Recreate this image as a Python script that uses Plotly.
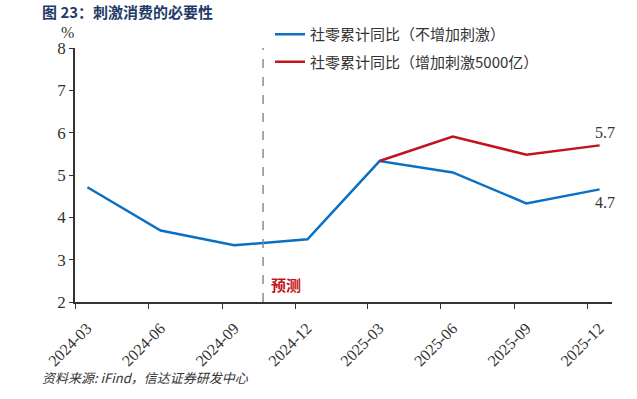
import plotly.graph_objects as go

# ---- data ----
months = ["2024-03", "2024-06", "2024-09", "2024-12", "2025-03", "2025-06", "2025-09", "2025-12"]
base_vals = [4.71, 3.69, 3.34, 3.48, 5.33, 5.06, 4.33, 4.66]
stim_months = ["2025-03", "2025-06", "2025-09", "2025-12"]
stim_vals = [5.33, 5.91, 5.48, 5.70]
base_name = "社零累计同比（不增加刺激）"
stim_name = "社零累计同比（增加刺激5000亿）"
forecast_date = "2024-10-22"
forecast_label = "预测"
end_labels = ["4.7", "5.7"]
title_text = "图 23：刺激消费的必要性"
source_text = "资料来源: iFind，信达证券研发中心"

BLUE = "#0A70C4"
RED = "#C2141C"
SERIF = "Liberation Serif, Times New Roman, serif"
CJK = "Noto Sans CJK SC, sans-serif"

W, H = 637, 399
ML, MR, MT, MB = 75, 25, 48, 97

fig = go.Figure()
fig.add_trace(go.Scatter(
    x=months, y=base_vals, name=base_name, mode="lines", legendgroup="a",
    line=dict(color=BLUE, width=2.5),
    xperiod="M1", xperiodalignment="middle",
))
fig.add_trace(go.Scatter(
    x=stim_months, y=stim_vals, name=stim_name, mode="lines", legendgroup="b",
    line=dict(color=RED, width=2.5),
    xperiod="M1", xperiodalignment="middle",
))

# forecast divider
fig.add_shape(type="line", xref="x", yref="paper", x0=forecast_date, x1=forecast_date,
              y0=0, y1=1, line=dict(color="#8C8C8C", width=1.5, dash="dash"))
fig.add_annotation(x=forecast_date, y=2.41, xref="x", yref="y", text="<b>" + forecast_label + "</b>",
                   showarrow=False, xanchor="left", xshift=6,
                   font=dict(family=CJK, size=15, color=RED))

# end labels
fig.add_annotation(x=stim_months[-1], y=base_vals[-1], text=end_labels[0], showarrow=False,
                   xshift=18, yshift=-13, font=dict(family=SERIF, size=16, color="#333"))
fig.add_annotation(x=stim_months[-1], y=stim_vals[-1], text=end_labels[1], showarrow=False,
                   xshift=18, yshift=13, font=dict(family=SERIF, size=16, color="#333"))

# title, unit, source (positioned relative to the whole figure)
fig.add_annotation(xref="paper", yref="paper", x=(40 - ML) / (W - ML - MR), y=1 + (MT - 11) / (H - MT - MB),
                   text="<b>" + title_text + "</b>", showarrow=False, xanchor="left", yanchor="middle",
                   font=dict(family=CJK, size=15, color="#1F3A68"))
fig.add_annotation(xref="paper", yref="paper", x=0, y=1, text="%", showarrow=False,
                   xanchor="right", yanchor="bottom", xshift=1, yshift=5,
                   font=dict(family=SERIF, size=16, color="#333"))
fig.add_annotation(xref="paper", yref="paper", x=(40 - ML) / (W - ML - MR), y=-(377 - (H - MB)) / (H - MT - MB),
                   text="<i>" + source_text + "</i>", showarrow=False, xanchor="left", yanchor="middle",
                   font=dict(family=CJK, size=13, color="#333"))

fig.update_layout(
    width=W, height=H,
    margin=dict(l=ML, r=MR, t=MT, b=MB, autoexpand=False),
    paper_bgcolor="white", plot_bgcolor="white",
    showlegend=True,
    legend=dict(xref="container", yref="container", x=270 / W, y=1 - 18 / H,
                xanchor="left", yanchor="top",
                bgcolor="rgba(0,0,0,0)", font=dict(family=CJK, size=15, color="#333"),
                tracegroupgap=5, itemwidth=30),
    xaxis=dict(type="date", range=["2024-03-01", "2026-01-01"], tick0="2024-03-01", dtick="M3",
               tickformat="%Y-%m", tickangle=-45, ticks="outside", ticklen=5, tickcolor="#333",
               showline=True, linecolor="#333", linewidth=1.5, showgrid=False, zeroline=False,
               automargin=False, ticklabelshift=12, ticklabelstandoff=4,
               tickfont=dict(family=SERIF, size=16, color="#333")),
    yaxis=dict(range=[2, 8], dtick=1, ticks="outside", ticklen=4, tickcolor="#333",
               showline=True, linecolor="#333", linewidth=1.5, showgrid=False, zeroline=False,
               automargin=False,
               tickfont=dict(family=SERIF, size=17, color="#333")),
)

fig.write_html("out.html", config={"displayModeBar": False},
               post_script="document.body.style.margin='0';document.body.style.overflow='hidden';")
